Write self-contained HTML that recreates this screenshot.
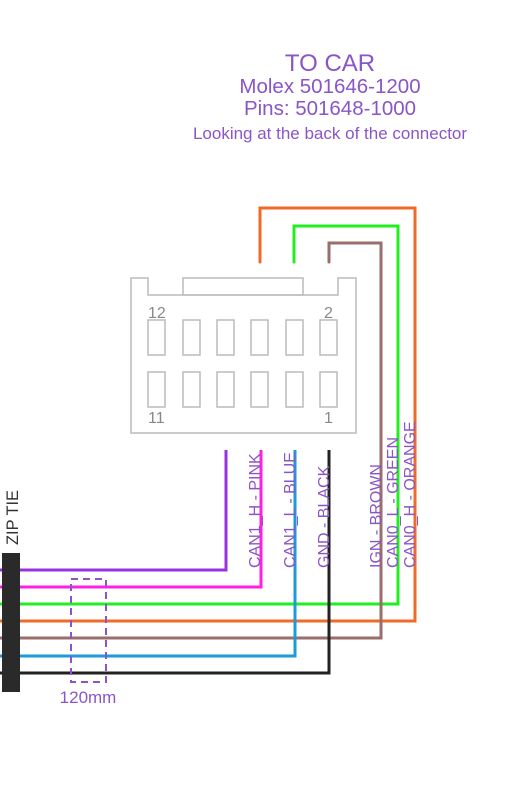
<!DOCTYPE html>
<html><head><meta charset="utf-8"><style>
html,body{margin:0;padding:0;background:#fff;}
svg{display:block;}
text{font-family:"Liberation Sans",sans-serif;}
</style></head><body>
<svg width="530" height="790" viewBox="0 0 530 790" xmlns="http://www.w3.org/2000/svg">
<g fill="#8a55c8" text-anchor="middle">
<text x="330" y="71" font-size="24">TO CAR</text>
<text x="330" y="93" font-size="20.5">Molex 501646-1200</text>
<text x="330" y="115" font-size="20.5">Pins: 501648-1000</text>
<text x="330" y="139" font-size="17">Looking at the back of the connector</text>
</g>
<g fill="none" stroke="#bbb" stroke-width="1.5">
<path d="M131,278 H148 V295 H338 V278 H356 V433 H131 Z"/>
<rect x="183" y="278" width="120" height="17"/>
<g>
<rect x="148" y="320" width="17" height="35"/><rect x="183" y="320" width="17" height="35"/><rect x="217" y="320" width="17" height="35"/><rect x="251" y="320" width="17" height="35"/><rect x="286" y="320" width="17" height="35"/><rect x="320" y="320" width="17" height="35"/>
<rect x="148" y="372" width="17" height="35"/><rect x="183" y="372" width="17" height="35"/><rect x="217" y="372" width="17" height="35"/><rect x="251" y="372" width="17" height="35"/><rect x="286" y="372" width="17" height="35"/><rect x="320" y="372" width="17" height="35"/>
</g>
</g>
<g fill="#888" font-size="16">
<text x="148" y="318">12</text><text x="324" y="318">2</text>
<text x="148" y="423">11</text><text x="324" y="423">1</text>
</g>
<g fill="none" stroke-width="3">
<path d="M0,570 H226 V450" stroke="#9b30e0"/>
<path d="M0,587 H261 V450" stroke="#ff1ee6"/>
<path d="M0,604 H398 V226 H294 V262" stroke="#22ee22" stroke-linecap="round"/>
<path d="M0,621 H415 V208 H260 V262" stroke="#f06a28" stroke-linecap="round"/>
<path d="M0,638 H381 V243 H329 V262" stroke="#9a6e6a" stroke-linecap="round"/>
<path d="M0,656 H295 V450" stroke="#1e9ad8"/>
<path d="M0,673 H329 V450" stroke="#222"/>
</g>
<g fill="#8a55c8" font-size="16">
<text transform="translate(260,568) rotate(-90)">CAN1_H - PINK</text>
<text transform="translate(295,568) rotate(-90)">CAN1_L - BLUE</text>
<text transform="translate(329,568) rotate(-90)">GND - BLACK</text>
<text transform="translate(381,568) rotate(-90)">IGN - BROWN</text>
<text transform="translate(398,568) rotate(-90)">CAN0_L - GREEN</text>
<text transform="translate(415,568) rotate(-90)">CAN0_H - ORANGE</text>
</g>
<rect x="2" y="553" width="18" height="139" fill="#2a2a2a"/>
<text transform="translate(18,545) rotate(-90)" font-size="16.4" fill="#333">ZIP TIE</text>
<rect x="71" y="579" width="35" height="103" fill="none" stroke="#8a55c8" stroke-width="2" stroke-dasharray="7,5"/>
<text x="88" y="703" font-size="17" fill="#8a55c8" text-anchor="middle">120mm</text>
</svg>
</body></html>
